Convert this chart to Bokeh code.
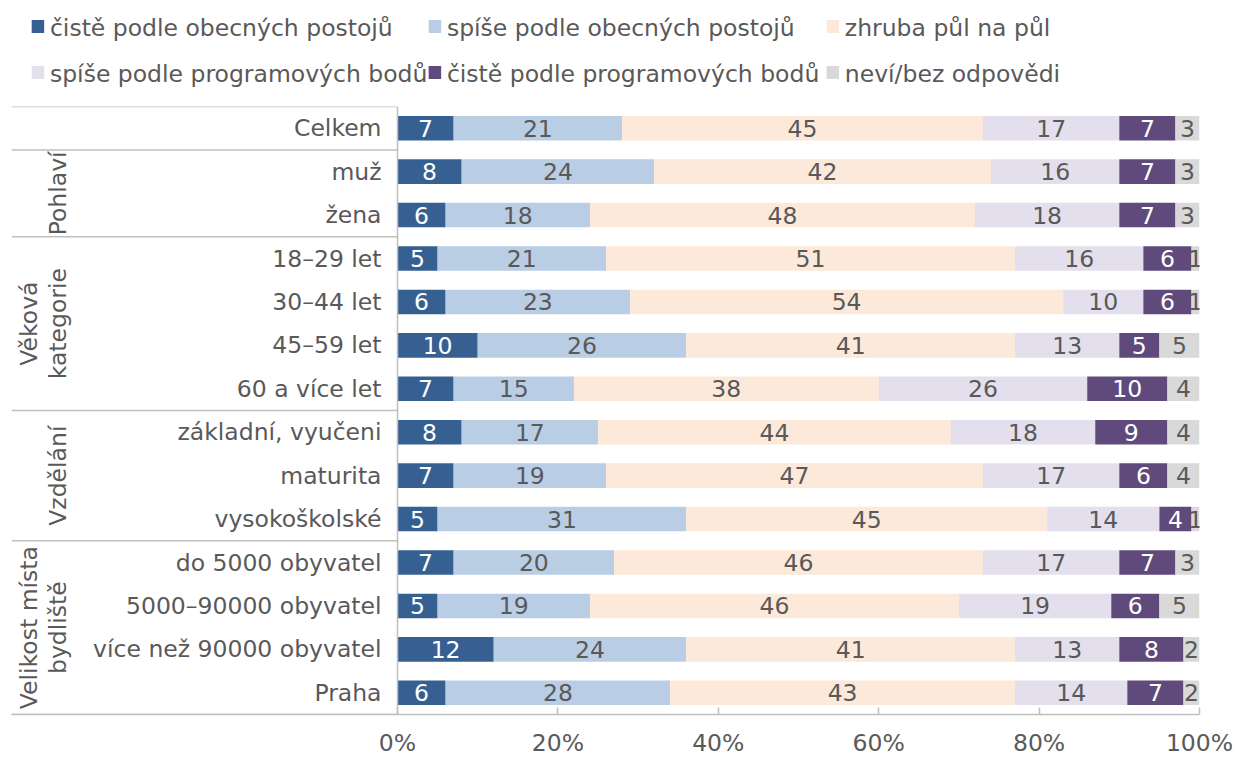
import numpy as np
from bokeh.plotting import figure
from bokeh.layouts import column
from bokeh.models import Range1d, FixedTicker, PrintfTickFormatter, ColumnDataSource
from bokeh.core.properties import value
from bokeh.embed import file_html
from bokeh.resources import INLINE

# ---------------- data ----------------
categories = ["Celkem", "muž", "žena", "18–29 let", "30–44 let", "45–59 let", "60 a více let",
              "základní, vyučeni", "maturita", "vysokoškolské",
              "do 5000 obyvatel", "5000–90000 obyvatel", "více než 90000 obyvatel", "Praha"]
series_names = ["čistě podle obecných postojů", "spíše podle obecných postojů", "zhruba půl na půl",
                "spíše podle programových bodů", "čistě podle programových bodů", "neví/bez odpovědi"]
cist_obecne = [7, 8, 6, 5, 6, 10, 7, 8, 7, 5, 7, 5, 12, 6]
spise_obecne = [21, 24, 18, 21, 23, 26, 15, 17, 19, 31, 20, 19, 24, 28]
pul_na_pul = [45, 42, 48, 51, 54, 41, 38, 44, 47, 45, 46, 46, 41, 43]
spise_program = [17, 16, 18, 16, 10, 13, 26, 18, 17, 14, 17, 19, 13, 14]
cist_program = [7, 7, 7, 6, 6, 5, 10, 9, 6, 4, 7, 6, 8, 7]
nevi = [3, 3, 3, 1, 1, 5, 4, 4, 4, 1, 3, 5, 2, 2]
group_lines = [[], ["Pohlaví"], ["Věková", "kategorie"], ["Vzdělání"], ["Velikost místa", "bydliště"]]
group_sizes = [1, 2, 4, 3, 4]
x_ticks = [0, 20, 40, 60, 80, 100]

series = [cist_obecne, spise_obecne, pul_na_pul, spise_program, cist_program, nevi]
colors = ["#376092", "#B9CDE5", "#FDE9D9", "#E4DFEC", "#604A7B", "#D9D9D9"]
label_colors = ["#FFFFFF", "#595959", "#595959", "#595959", "#FFFFFF", "#595959"]

FONT = "DejaVu Sans"
FS = "23.5px"
TXT = "#595959"
LINE = "#BFBFBF"

W = 1236
LEG_H = 105
MAIN_H = 654

# --------------- layout helpers (page px -> data) ---------------
AX0_PX, AX100_PX, FRAME_L_PX = 397, 1199, 11
def px_to_x(px):
    return (px - AX0_PX) / (AX100_PX - AX0_PX) * 100.0
XL = px_to_x(FRAME_L_PX)

n = len(categories)
ys = list(range(n))

# ---------------- legend figure ----------------
leg = figure(width=W, height=LEG_H, x_range=Range1d(0, W), y_range=Range1d(LEG_H, 0),
             output_backend="svg", toolbar_location=None, min_border=0)
leg.axis.visible = False
leg.grid.visible = False
leg.outline_line_color = None
col_sq = [21, 434, 848]
col_tx = [40, 453, 867]
row_y = [26, 72]
sq_x, sq_y, tx_x, tx_y = [], [], [], []
for i in range(len(series_names)):
    r, c = divmod(i, 3)
    sq_x.append(col_sq[c] + 6.5)
    sq_y.append(row_y[r])
    tx_x.append(col_tx[c])
    tx_y.append(row_y[r] + 1)
leg.rect(x=sq_x, y=sq_y, width=13, height=13, fill_color=colors, line_color=None)
leg.text(x=tx_x, y=tx_y, text=series_names, text_font=value(FONT), text_font_size=FS,
         text_color=TXT, text_align="left", text_baseline="middle")

# ---------------- main figure ----------------
p = figure(width=W, height=MAIN_H, x_range=Range1d(XL, 100), y_range=Range1d(n - 0.5, -0.5),
           output_backend="svg", toolbar_location=None,
           min_border_left=FRAME_L_PX, min_border_right=W - AX100_PX,
           min_border_top=1, min_border_bottom=42)
p.outline_line_color = None
p.grid.visible = False
p.yaxis.visible = False

data = {"y": ys}
keys = []
for i, s in enumerate(series):
    k = f"s{i}"
    data[k] = s
    keys.append(k)
src = ColumnDataSource(data)
p.hbar_stack(keys, y="y", height=0.565, color=colors, source=src, line_color=None)

# value labels
for i, s in enumerate(series):
    left = np.sum(series[:i], axis=0) if i > 0 else np.zeros(n)
    centers = left + np.array(s) / 2.0
    p.text(x=list(centers), y=ys, text=[str(v) for v in s], text_font=value(FONT),
           text_font_size=FS, text_color=label_colors[i], text_align="center",
           text_baseline="middle")

# category labels
p.text(x=[px_to_x(381)] * n, y=ys, text=categories, text_font=value(FONT), text_font_size=FS,
       text_color=TXT, text_align="right", text_baseline="middle")

# group separators and group labels
bounds = [-0.5]
for g in group_sizes:
    bounds.append(bounds[-1] + g)
p.segment(x0=[XL] * len(bounds), y0=bounds, x1=[0] * len(bounds), y1=bounds,
          line_color=LINE, line_width=1.5)
p.segment(x0=[0], y0=[-0.5], x1=[0], y1=[n - 0.5], line_color=LINE, line_width=1.5)

line_px = [57, 28]
for gi, lines in enumerate(group_lines):
    if not lines:
        continue
    yc = (bounds[gi] + bounds[gi + 1]) / 2.0
    for li, t in enumerate(reversed(lines)):
        p.text(x=[px_to_x(line_px[li])], y=[yc], text=[t], angle=np.pi / 2,
               text_font=value(FONT), text_font_size=FS, text_color=TXT,
               text_align="center", text_baseline="middle")

# x axis
p.xaxis.ticker = FixedTicker(ticks=x_ticks)
p.xaxis.formatter = PrintfTickFormatter(format="%d%%")
p.xaxis.axis_line_color = LINE
p.xaxis.axis_line_width = 1.5
p.xaxis.major_tick_line_color = LINE
p.xaxis.major_tick_line_width = 1.5
p.xaxis.major_tick_in = 7
p.xaxis.major_tick_out = 0
p.xaxis.minor_tick_line_color = None
p.xaxis.major_label_standoff = 14
p.xaxis.major_label_text_font = FONT
p.xaxis.major_label_text_font_size = FS
p.xaxis.major_label_text_color = TXT

layout = column(leg, p, spacing=0)
open("out.html", "w").write(file_html(layout, INLINE))
